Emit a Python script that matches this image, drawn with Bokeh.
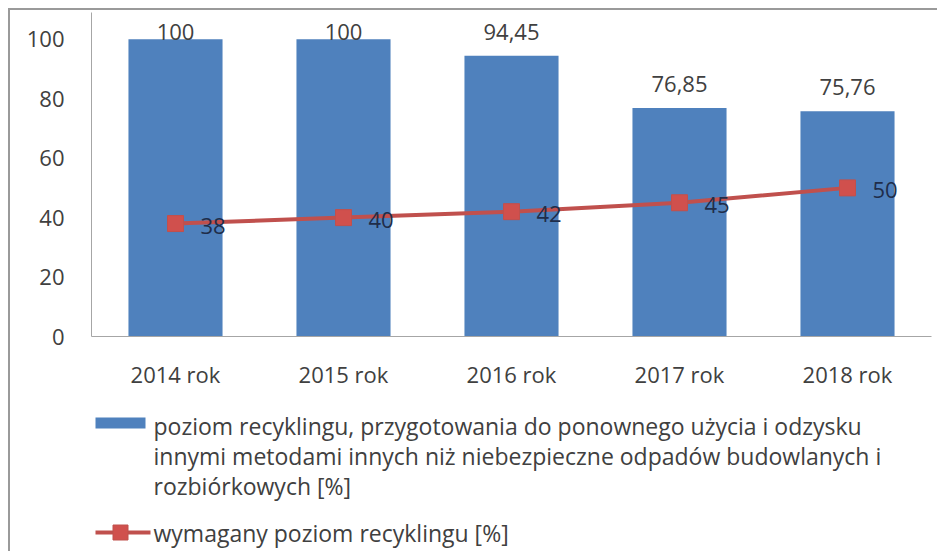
from bokeh.plotting import figure
from bokeh.models import ColumnDataSource, FixedTicker, Range1d, FactorRange, CDSView, BooleanFilter
from bokeh.layouts import column
from bokeh.embed import file_html
from bokeh.resources import INLINE
from bokeh.core.properties import value

# ---- data ----
categories = ["2014 rok", "2015 rok", "2016 rok", "2017 rok", "2018 rok"]
recycling_level = [100, 100, 94.45, 76.85, 75.76]
recycling_labels = ["100", "100", "94,45", "76,85", "75,76"]
required_level = [38, 40, 42, 45, 50]
required_labels = ["38", "40", "42", "45", "50"]
y_ticks = [0, 20, 40, 60, 80, 100]
legend_bar = ["poziom recyklingu, przygotowania do ponownego użycia i odzysku",
              "innymi metodami innych niż niebezpieczne odpadów budowlanych i",
              "rozbiórkowych [%]"]
legend_line = "wymagany poziom recyklingu [%]"

FONT = "Open Sans"
BLUE = "#4F81BD"
RED = "#C0504D"
TXT = "#404040"

src = ColumnDataSource(dict(cat=categories, v=recycling_level, vl=recycling_labels,
                            r=required_level, rl=required_labels))

p = figure(x_range=FactorRange(*categories, range_padding=0), y_range=Range1d(0, 109),
           width=927, height=381, output_backend="svg", toolbar_location=None,
           min_border_left=81, min_border_right=6, min_border_top=2, min_border_bottom=53)
p.outline_line_color = None
p.grid.grid_line_color = None
p.background_fill_color = "white"
p.border_fill_color = "white"

p.vbar(x="cat", top="v", width=0.56, source=src, fill_color=BLUE, line_color=None)

# value labels: outside end, pushed inside the plot area when the bar reaches the top
near_top = [v >= 95 for v in recycling_level]
far = [not t for t in near_top]
lab_kw = dict(x="cat", y="v", text="vl", source=src, text_align="center",
              text_baseline="middle", text_font=value(FONT), text_font_size="22px",
              text_color=TXT)
p.text(view=CDSView(filter=BooleanFilter(far)), y_offset=-24, **lab_kw)
p.text(view=CDSView(filter=BooleanFilter(near_top)), y_offset=-7, **lab_kw)

p.line(x="cat", y="r", source=src, line_color=RED, line_width=4)
p.scatter(x="cat", y="r", source=src, marker="square", size=16, fill_color="#D0504D",
          line_color=RED)
p.text(x="cat", y="r", text="rl", source=src, text_align="left", text_baseline="middle",
       text_font=value(FONT), text_font_size="22px", text_color="#1F2D4A",
       x_offset=25, y_offset=2)

p.yaxis.ticker = FixedTicker(ticks=y_ticks)
for ax in (p.xaxis[0], p.yaxis[0]):
    ax.axis_line_color = "#A6A6A6"
    ax.major_tick_line_color = None
    ax.minor_tick_line_color = None
    ax.major_label_text_font = FONT
    ax.major_label_text_font_size = "22px"
    ax.major_label_text_color = TXT
p.yaxis.major_label_standoff = 21
p.xaxis.major_label_standoff = 16

# ---- legend panel (frame aligned with the chart frame by the column) ----
lg = figure(width=927, height=160, x_range=Range1d(0, 840), y_range=Range1d(160, 0),
            output_backend="svg", toolbar_location=None,
            min_border_left=81, min_border_right=6, min_border_top=0, min_border_bottom=0)
lg.axis.visible = False
lg.grid.grid_line_color = None
lg.outline_line_color = None
lg.border_fill_color = "white"

lg.quad(left=[4], right=[54], top=[26], bottom=[37], fill_color=BLUE, line_color=None)
lg.text(x=[62] * 3, y=[34, 64, 94], text=legend_bar, text_baseline="middle",
        text_font=value(FONT), text_font_size="23px", text_color=TXT)
lg.line(x=[4, 59], y=[141, 141], line_color=RED, line_width=4)
lg.scatter(x=[29], y=[141], marker="square", size=15, fill_color="#D0504D", line_color=RED)
lg.text(x=[62], y=[141], text=[legend_line], text_baseline="middle",
        text_font=value(FONT), text_font_size="23px", text_color=TXT)

layout = column(p, lg, spacing=0, margin=(8, 0, 0, 8),
                styles={"border-left": "2px solid #9a9a9a", "border-top": "2px solid #9a9a9a"})

open("out.html", "w").write(file_html(layout, INLINE))
